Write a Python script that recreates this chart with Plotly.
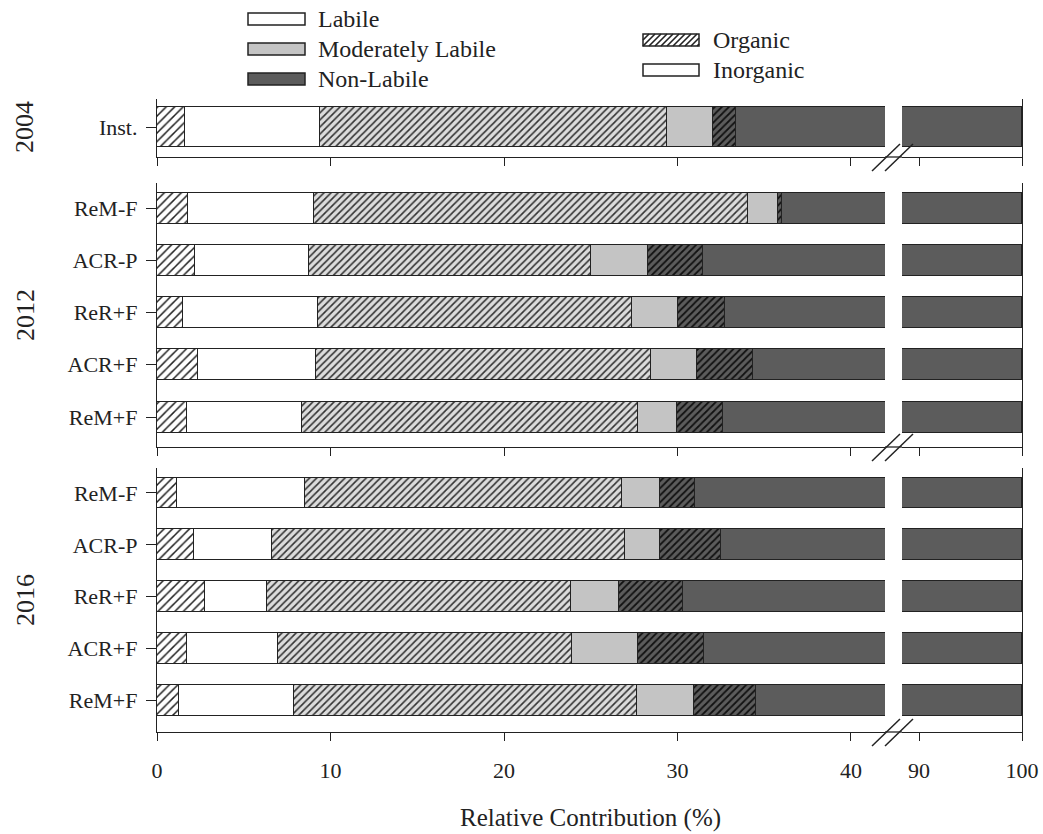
import plotly.graph_objects as go

W, H = 1043, 834

# ---- data: relative contribution (%) of each P fraction ----
years = ["2004", "2012", "2016"]
treatments = {
    "2004": ["Inst."],
    "2012": ["ReM-F", "ACR-P", "ReR+F", "ACR+F", "ReM+F"],
    "2016": ["ReM-F", "ACR-P", "ReR+F", "ACR+F", "ReM+F"],
}
labile_org = {
    "2004": [1.6],
    "2012": [1.8, 2.2, 1.5, 2.35, 1.75],
    "2016": [1.15, 2.15, 2.75, 1.75, 1.25],
}
labile_inorg = {
    "2004": [7.8],
    "2012": [7.25, 6.55, 7.8, 6.8, 6.6],
    "2016": [7.4, 4.5, 3.6, 5.2, 6.65],
}
modlabile_org = {
    "2004": [20.0],
    "2012": [25.0, 16.25, 18.05, 19.35, 19.4],
    "2016": [18.25, 20.35, 17.5, 16.95, 19.75],
}
modlabile_inorg = {
    "2004": [2.65],
    "2012": [1.75, 3.3, 2.65, 2.6, 2.2],
    "2016": [2.2, 2.0, 2.75, 3.85, 3.3],
}
nonlabile_org = {
    "2004": [1.3],
    "2012": [0.25, 3.15, 2.75, 3.25, 2.7],
    "2016": [2.0, 3.5, 3.7, 3.8, 3.55],
}
nonlabile_inorg = {
    "2004": [66.65],
    "2012": [63.95, 68.55, 67.25, 65.65, 67.35],
    "2016": [69.0, 67.5, 69.7, 68.45, 65.5],
}

left_ticks = [0, 10, 20, 30, 40]
right_ticks = [90, 100]

# ---- styling ----
FONT = "Liberation Serif, Times New Roman, serif"
INK = "#222222"
LIGHT = "#c4c4c4"
DARK = "#5c5c5c"

series = [
    # (values, fill, pattern)
    (labile_org, "white", dict(shape="/", size=6, solidity=0.25, fgcolor="#222", bgcolor="white")),
    (labile_inorg, "white", None),
    (modlabile_org, "#dcdcdc", dict(shape="/", size=5, solidity=0.32, fgcolor="#333", bgcolor="#dcdcdc")),
    (modlabile_inorg, LIGHT, None),
    (nonlabile_org, DARK, dict(shape="/", size=5, solidity=0.35, fgcolor="#111", bgcolor=DARK)),
    (nonlabile_inorg, DARK, None),
]


def fx(px):
    return px / W


def fy(py):
    return 1 - py / H


# pixel layout of the three panels: top, bottom, first/last bar centre, bar height
panels = {
    "2004": dict(top=99, bottom=157, c0=127, c1=127, step=52.0, bar=40),
    "2012": dict(top=183, bottom=447, c0=208, c1=417, step=52.25, bar=31),
    "2016": dict(top=468, bottom=732, c0=493, c1=700.5, step=51.9, bar=31),
}

X0, XBREAK_L, XBREAK_R, X1 = 157, 885, 902, 1022
left_range = [0, 41.96]
right_range = [88.35, 100]

fig = go.Figure()
layout = dict()

for p, yr in enumerate(years):
    cfg = panels[yr]
    cats = treatments[yr]
    n = len(cats)
    xl = f"x{2 * p + 1}" if p > 0 else "x"
    xr = f"x{2 * p + 2}"
    yl = f"y{2 * p + 1}" if p > 0 else "y"
    yr_ax = f"y{2 * p + 2}"
    width = cfg["bar"] / cfg["step"]
    for xa, ya in ((xl, yl), (xr, yr_ax)):
        for vals, fill, pat in series:
            marker = dict(color=fill, line=dict(color=INK, width=1))
            if pat:
                marker["pattern"] = dict(fillmode="replace", **pat)
            fig.add_trace(go.Bar(
                x=vals[yr], y=cats, orientation="h", width=width,
                marker=marker, xaxis=xa, yaxis=ya, showlegend=False,
            ))

    y_top = -(cfg["c0"] - cfg["top"]) / cfg["step"]
    y_bot = (n - 1) + (cfg["bottom"] - cfg["c1"]) / cfg["step"]
    dom = [fy(cfg["bottom"]), fy(cfg["top"])]
    show_labels = yr == "2016"

    xl_key = "xaxis" if p == 0 else f"xaxis{2 * p + 1}"
    xr_key = f"xaxis{2 * p + 2}"
    yl_key = "yaxis" if p == 0 else f"yaxis{2 * p + 1}"
    yr_key = f"yaxis{2 * p + 2}"

    common_x = dict(showline=True, linecolor=INK, linewidth=1.3, ticks="outside",
                    ticklen=8, tickwidth=1.3, tickcolor=INK, showgrid=False, zeroline=False,
                    showticklabels=show_labels, ticklabelstandoff=10,
                    tickfont=dict(family=FONT, size=22, color=INK), automargin=False,
                    fixedrange=True)
    layout[xl_key] = dict(common_x, domain=[fx(X0), fx(XBREAK_L)], range=left_range,
                          tickvals=left_ticks, anchor=yl)
    layout[xr_key] = dict(common_x, domain=[fx(XBREAK_R), fx(X1)], range=right_range,
                          tickvals=right_ticks, anchor=yr_ax)
    layout[yl_key] = dict(domain=dom, type="category", categoryarray=cats,
                          range=[y_bot, y_top], anchor=xl, showline=True, linecolor=INK,
                          linewidth=1.3, ticks="outside", ticklen=10, tickwidth=1.3,
                          tickcolor=INK, showgrid=False, zeroline=False,
                          ticklabelstandoff=4,
                          tickfont=dict(family=FONT, size=22, color=INK), automargin=False,
                          fixedrange=True)
    layout[yr_key] = dict(domain=dom, type="category", categoryarray=cats,
                          range=[y_bot, y_top], anchor=xr, side="right", showline=True,
                          linecolor=INK, linewidth=1.3, ticks="", showticklabels=False,
                          showgrid=False, zeroline=False, automargin=False, fixedrange=True)

shapes = []
annotations = []

# axis line continued through the break, and the // break marks
for yr in years:
    yb = panels[yr]["bottom"]
    shapes.append(dict(type="line", xref="paper", yref="paper",
                       x0=fx(XBREAK_L), x1=fx(XBREAK_R), y0=fy(yb), y1=fy(yb),
                       line=dict(color=INK, width=1.3)))
    for dx in (0, 13):
        shapes.append(dict(type="line", xref="paper", yref="paper",
                           x0=fx(872 + dx), y0=fy(yb + 14), x1=fx(900 + dx), y1=fy(yb - 13),
                           line=dict(color=INK, width=1.5)))

# year labels
year_centres = {"2004": 127, "2012": 315, "2016": 600}
for yr in years:
    annotations.append(dict(text=yr, xref="paper", yref="paper", x=fx(25), y=fy(year_centres[yr]),
                            textangle=-90, showarrow=False, xanchor="center", yanchor="middle",
                            font=dict(family=FONT, size=26, color=INK)))

annotations.append(dict(text="Relative Contribution (%)", xref="paper", yref="paper",
                        x=fx(590), y=fy(818), showarrow=False, xanchor="center", yanchor="middle",
                        font=dict(family=FONT, size=25, color=INK)))

# legend: fraction lability (fill colour) and form (hatching)
legend_a = [("Labile", "white", 19), ("Moderately Labile", LIGHT, 49), ("Non-Labile", DARK, 79)]
for label, fill, cy in legend_a:
    shapes.append(dict(type="rect", xref="paper", yref="paper", x0=fx(248), x1=fx(305),
                       y0=fy(cy + 6), y1=fy(cy - 6), fillcolor=fill,
                       line=dict(color=INK, width=1.5)))
    annotations.append(dict(text=label, xref="paper", yref="paper", x=fx(316), y=fy(cy),
                            showarrow=False, xanchor="left", yanchor="middle",
                            font=dict(family=FONT, size=24, color=INK)))

legend_b = [("Organic", True, 40), ("Inorganic", False, 70)]
for label, hatched, cy in legend_b:
    bx0, bx1, by0, by1 = 643, 699, cy - 6, cy + 6
    shapes.append(dict(type="rect", xref="paper", yref="paper", x0=fx(bx0), x1=fx(bx1),
                       y0=fy(by1), y1=fy(by0), fillcolor="white",
                       line=dict(color=INK, width=1.5)))
    if hatched:
        k = bx0 + by0
        while k < bx1 + by1:
            xa = max(bx0, k - by1)
            xb = min(bx1, k - by0)
            if xb > xa:
                shapes.append(dict(type="line", xref="paper", yref="paper",
                                   x0=fx(xa), y0=fy(k - xa), x1=fx(xb), y1=fy(k - xb),
                                   line=dict(color=INK, width=1.6)))
            k += 6
    annotations.append(dict(text=label, xref="paper", yref="paper", x=fx(711), y=fy(cy),
                            showarrow=False, xanchor="left", yanchor="middle",
                            font=dict(family=FONT, size=24, color=INK)))

fig.update_layout(
    width=W, height=H, barmode="stack", bargap=0,
    margin=dict(l=0, r=0, t=0, b=0),
    paper_bgcolor="white", plot_bgcolor="white",
    showlegend=False, shapes=shapes, annotations=annotations,
    **layout,
)

fig.write_html("out.html")
